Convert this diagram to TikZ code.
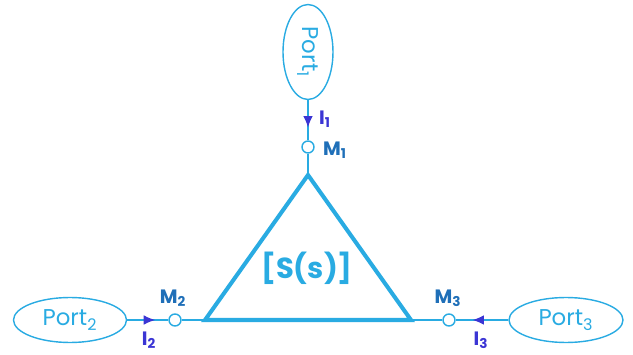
\documentclass[tikz,border=0pt]{standalone}
\usepackage{fontspec}
\setmainfont{Poppins}
\usetikzlibrary{arrows.meta,shapes.geometric,decorations.markings}
\definecolor{portblue}{HTML}{29ABE2}
\definecolor{labelblue}{HTML}{1F6FB8}
\definecolor{currblue}{HTML}{3B35D4}
\tikzset{
  port/.style={draw=portblue,ellipse,line width=0.8pt,text=portblue,font=\fontsize{13}{15}\selectfont,inner sep=0pt},
  meas/.style={draw=portblue,circle,line width=0.8pt,minimum size=0.24cm,inner sep=0pt,fill=white},
  wire/.style={draw=portblue,line width=0.7pt},
  flow/.style={wire,postaction={decorate},
    decoration={markings,mark=at position 0.68 with {\arrow[currblue]{Latex[length=6.5pt,width=5.5pt]}}}},
  mlabel/.style={text=labelblue,font=\bfseries\fontsize{11}{13}\selectfont},
  ilabel/.style={text=currblue,font=\bfseries\fontsize{11}{13}\selectfont}
}
\begin{document}
\begin{tikzpicture}[x=0.02cm,y=-0.02cm]
\useasboundingbox (0,0) rectangle (633,355);
% ports
\node[port,rotate=-90,minimum width=1.9cm,minimum height=1.0cm] (p1) at (308,52) {Port\textsubscript{1}};
\node[port,minimum width=2.26cm,minimum height=0.9cm] (p2) at (70,320) {Port\textsubscript{2}};
\node[port,minimum width=2.28cm,minimum height=0.9cm] (p3) at (566,320) {Port\textsubscript{3}};
% measurement points
\node[meas] (m1) at (308,147) {};
\node[meas] (m2) at (175,320) {};
\node[meas] (m3) at (449,320) {};
% the triangle
\coordinate (top) at (308,175);
\coordinate (bl) at (205,320);
\coordinate (br) at (411,320);
\draw[portblue,line width=2.3pt,line join=miter] (top) -- (br) -- (bl) -- cycle;
\node[text=portblue,font=\bfseries\fontsize{16.5}{19}\selectfont] (S) at (307,268) {[S(s)]};
% wires
\draw[flow] (p1) -- (m1);
\draw[flow] (p2) -- (m2);
\draw[flow] (p3) -- (m3);
\draw[wire] (m1) -- (top);
\draw[wire] (m2) -- (bl);
\draw[wire] (m3) -- (br);
% labels
\node[ilabel] (i1) at (325,119) {I\textsubscript{1}};
\node[ilabel] (i2) at (149,340) {I\textsubscript{2}};
\node[ilabel] (i3) at (481,340) {I\textsubscript{3}};
\node[mlabel] (l1) at (335,150) {M\textsubscript{1}};
\node[mlabel] (l2) at (173,298) {M\textsubscript{2}};
\node[mlabel] (l3) at (448,298) {M\textsubscript{3}};
\end{tikzpicture}
\end{document}
